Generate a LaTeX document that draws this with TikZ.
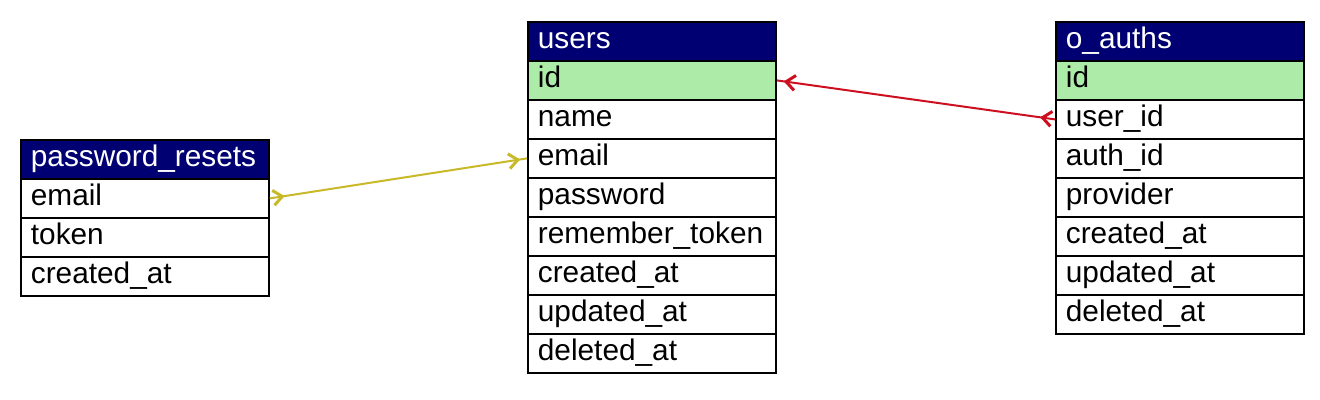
\documentclass[tikz,border=0pt]{standalone}
\usepackage{fontspec}
\setmainfont{Liberation Sans}
\usetikzlibrary{arrows.meta,decorations.markings}
\definecolor{hdr}{RGB}{0,0,115}
\definecolor{keyg}{RGB}{172,236,168}
\definecolor{fkyellow}{RGB}{200,185,40}
\definecolor{fkred}{RGB}{205,16,32}
\tikzset{
 cell/.style={draw=black, line width=0.9pt, anchor=north west, minimum width=124pt, minimum height=19.5pt, inner xsep=5pt, inner ysep=0pt, text width=114pt, align=left, text height=10pt, text depth=2.5pt, font=\fontsize{14.9}{17}\selectfont},
 hdrcell/.style={cell, fill=hdr, text=white},
 rowcell/.style={cell, fill=white},
 keycell/.style={cell, fill=keyg},
 fk/.style={line width=1pt, postaction={decorate}, decoration={markings,
   mark=at position 7.5pt with {\arrow{Straight Barb[length=4.5pt,width=7.5pt,line width=1.5pt]}},
   mark=at position -3.5pt with {\arrow{Straight Barb[length=4.5pt,width=7.5pt,line width=1.5pt]}}}}
}
\begin{document}
\begin{tikzpicture}[x=0.5pt,y=-0.5pt]
\useasboundingbox (0,0) rectangle (1320,400);
% password_resets
\node[hdrcell] (pr) at (20,139) {password\_resets};
\node[rowcell] (pr-email) at (20,178) {email};
\node[rowcell] (pr-token) at (20,217) {token};
\node[rowcell] (pr-created) at (20,256) {created\_at};
% users
\node[hdrcell] (us) at (527,21) {users};
\node[keycell] (us-id) at (527,60) {id};
\node[rowcell] (us-name) at (527,99) {name};
\node[rowcell] (us-email) at (527,138) {email};
\node[rowcell] (us-password) at (527,177) {password};
\node[rowcell] (us-remember) at (527,216) {remember\_token};
\node[rowcell] (us-created) at (527,255) {created\_at};
\node[rowcell] (us-updated) at (527,294) {updated\_at};
\node[rowcell] (us-deleted) at (527,333) {deleted\_at};
% o_auths
\node[hdrcell] (oa) at (1055,21) {o\_auths};
\node[keycell] (oa-id) at (1055,60) {id};
\node[rowcell] (oa-user) at (1055,99) {user\_id};
\node[rowcell] (oa-auth) at (1055,138) {auth\_id};
\node[rowcell] (oa-provider) at (1055,177) {provider};
\node[rowcell] (oa-created) at (1055,216) {created\_at};
\node[rowcell] (oa-updated) at (1055,255) {updated\_at};
\node[rowcell] (oa-deleted) at (1055,294) {deleted\_at};
% connectors
\draw[fk, fkyellow] (pr-email.east) -- (us-email.west);
\draw[fk, fkred] (oa-user.west) -- (us-id.east);
\end{tikzpicture}
\end{document}
